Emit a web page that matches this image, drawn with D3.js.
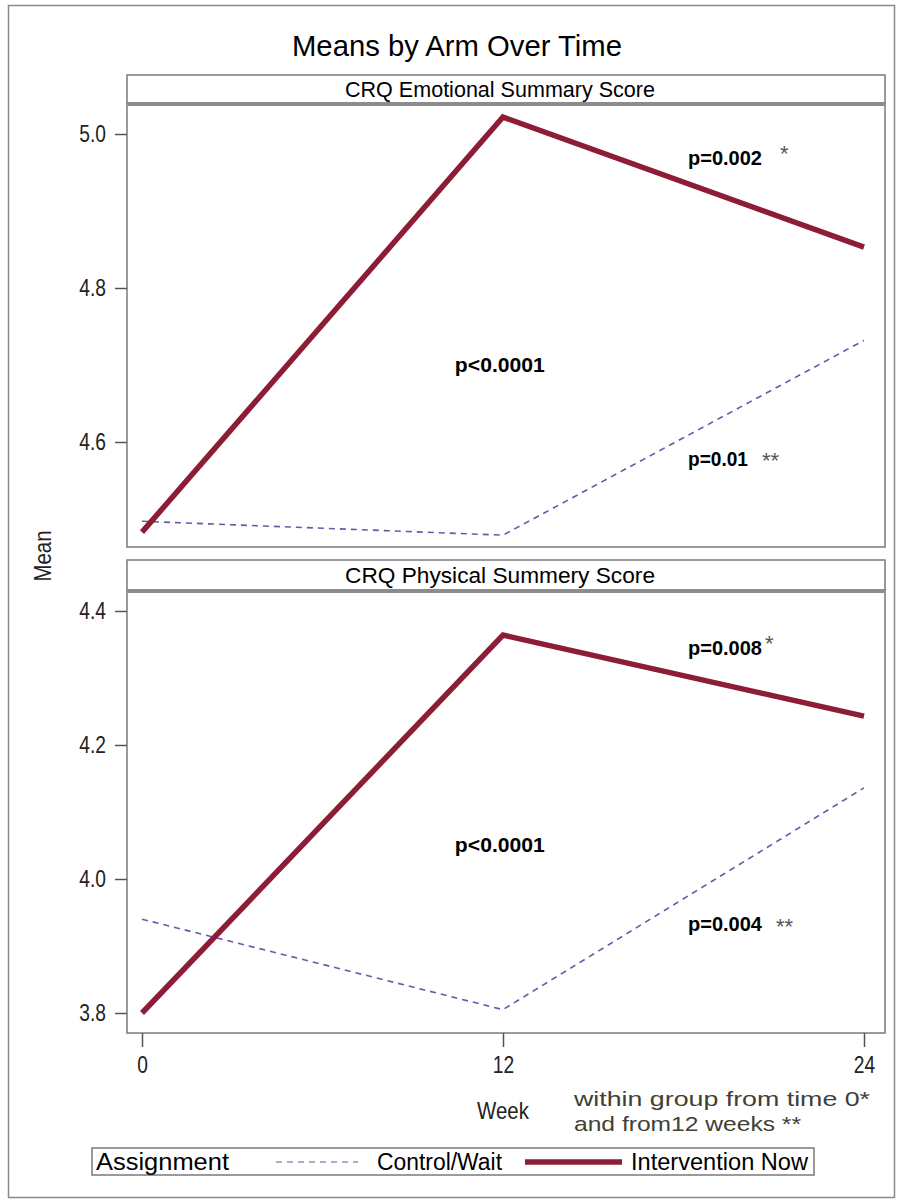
<!DOCTYPE html>
<html>
<head>
<meta charset="utf-8">
<script src="https://cdn.jsdelivr.net/npm/d3@7/dist/d3.min.js"></script>
<style>
  body { margin: 0; background: #fff; }
  svg text { font-family: "Liberation Sans Narrow", "Arial Narrow", "Liberation Sans", sans-serif; }
</style>
</head>
<body>
<svg id="chart" width="899" height="1201"></svg>
<script>
const weeks = [0, 12, 24]
const seriesNames = ['Control/Wait', 'Intervention Now']
const panelTitles = ['CRQ Emotional Summary Score', 'CRQ Physical Summery Score']

const emotionalControl = [4.497, 4.479, 4.732]
const emotionalIntervention = [4.483, 5.022, 4.853]
const physicalControl = [3.94, 3.805, 4.136]
const physicalIntervention = [3.80, 4.364, 4.243]

const emotionalTicks = [4.6, 4.8, 5.0]
const physicalTicks = [3.8, 4.0, 4.2, 4.4]

// p-value notes: text, stars, anchor (week, mean)
const emotionalNotes = [
  { text: 'p<0.0001', stars: '', week: 10.4, mean: 4.701 },
  { text: 'p=0.002', stars: '*', week: 18.15, mean: 4.969 },
  { text: 'p=0.01', stars: '**', week: 18.15, mean: 4.579 }
]
const physicalNotes = [
  { text: 'p<0.0001', stars: '', week: 10.4, mean: 4.052 },
  { text: 'p=0.008', stars: '*', week: 18.15, mean: 4.345 },
  { text: 'p=0.004', stars: '**', week: 18.15, mean: 3.933 }
]

const footNotes = ['within group from time 0*', 'and from12 weeks **']

const RED = '#8c1d35'
const BLUE = '#5d5da8'
const FRAME = '#7a7a7a'

const svg = d3.select('#chart')

// squeeze a text to look like the narrow SAS font
function narrow (sel, ratio) {
  sel.each(function () {
    const w = this.getComputedTextLength()
    d3.select(this)
      .attr('textLength', w * ratio)
      .attr('lengthAdjust', 'spacingAndGlyphs')
  })
}

// outer border
svg.append('rect')
  .attr('x', 8.5).attr('y', 5.5)
  .attr('width', 886).attr('height', 1192)
  .attr('fill', 'none').attr('stroke', '#8a8a8a').attr('stroke-width', 1.5)

svg.append('text')
  .attr('x', 457).attr('y', 56)
  .attr('text-anchor', 'middle')
  .attr('font-size', 29)
  .attr('textLength', 330).attr('lengthAdjust', 'spacingAndGlyphs')
  .text('Means by Arm Over Time')

const left = 127
const right = 885
const x = d3.scaleLinear().domain([0, 24]).range([142, 864])

const panels = [
  {
    title: panelTitles[0], headTop: 75, top: 103, bottom: 547,
    y: d3.scaleLinear().domain([4.6, 5.0]).range([442, 134]),
    ticks: emotionalTicks, control: emotionalControl, intervention: emotionalIntervention,
    notes: emotionalNotes
  },
  {
    title: panelTitles[1], headTop: 560, top: 590, bottom: 1033,
    y: d3.scaleLinear().domain([3.8, 4.4]).range([1013, 611]),
    ticks: physicalTicks, control: physicalControl, intervention: physicalIntervention,
    notes: physicalNotes
  }
]

const line = yScale => d3.line()
  .x((d, i) => x(weeks[i]))
  .y(d => yScale(d))

const noteWidths = { 'p<0.0001': 90, 'p=0.002': 74, 'p=0.008': 74, 'p=0.004': 74, 'p=0.01': 60 }

for (const p of panels) {
  const g = svg.append('g')

  // header strip
  g.append('rect')
    .attr('x', left).attr('y', p.headTop)
    .attr('width', right - left).attr('height', p.top - p.headTop)
    .attr('fill', '#fff').attr('stroke', FRAME).attr('stroke-width', 1.5)
  g.append('text')
    .attr('x', (left + right) / 2 - 6).attr('y', (p.headTop + p.top) / 2)
    .attr('dy', '0.36em')
    .attr('text-anchor', 'middle')
    .attr('font-size', 22)
    .attr('textLength', 310).attr('lengthAdjust', 'spacingAndGlyphs')
    .text(p.title)

  // plot frame
  g.append('rect')
    .attr('x', left).attr('y', p.top)
    .attr('width', right - left).attr('height', p.bottom - p.top)
    .attr('fill', '#fff').attr('stroke', FRAME).attr('stroke-width', 1.5)
  g.append('line')
    .attr('x1', left).attr('x2', right)
    .attr('y1', p.top + 1).attr('y2', p.top + 1)
    .attr('stroke', '#8c8c8c').attr('stroke-width', 4)

  // y axis
  const yAxis = d3.axisLeft(p.y)
    .tickValues(p.ticks)
    .tickFormat(d3.format('.1f'))
    .tickSize(12).tickPadding(9)
  const ya = g.append('g')
    .attr('transform', `translate(${left},0)`)
    .call(yAxis)
  ya.select('.domain').remove()
  ya.selectAll('.tick line').attr('stroke', '#555').attr('stroke-width', 1.5)
  ya.selectAll('.tick text')
    .attr('font-size', 24).attr('fill', '#222')
    .attr('font-family', '"Liberation Sans Narrow", "Liberation Sans", sans-serif')
    .call(narrow, 0.8)

  // series
  g.append('path')
    .datum(p.control)
    .attr('d', line(p.y))
    .attr('fill', 'none').attr('stroke', BLUE)
    .attr('stroke-width', 1.6).attr('stroke-dasharray', '6,5')
  g.append('path')
    .datum(p.intervention)
    .attr('d', line(p.y))
    .attr('fill', 'none').attr('stroke', RED)
    .attr('stroke-width', 5.5).attr('stroke-linejoin', 'miter')

  // p-value notes
  for (const n of p.notes) {
    const w = noteWidths[n.text]
    g.append('text')
      .attr('x', x(n.week)).attr('y', p.y(n.mean))
      .attr('dy', '0.36em')
      .attr('font-size', 21).attr('font-weight', 'bold')
      .attr('textLength', w).attr('lengthAdjust', 'spacingAndGlyphs')
      .text(n.text)
    if (n.stars) {
      g.append('text')
        .attr('x', x(n.week) + w + (n.text === 'p=0.008' ? 3 : n.stars === '*' ? 18 : 14))
        .attr('y', p.y(n.mean) - (n.stars === '*' ? 7 : 0))
        .attr('dy', '0.45em')
        .attr('font-size', 22).attr('fill', '#555')
        .attr('font-family', 'DejaVu Sans, sans-serif')
        .text(n.stars)
    }
  }
}

// x axis under the lower panel
const xAxis = d3.axisBottom(x)
  .tickValues(weeks)
  .tickFormat(d3.format('d'))
  .tickSize(14).tickPadding(9)
const xa = svg.append('g')
  .attr('transform', `translate(0,${panels[1].bottom})`)
  .call(xAxis)
xa.select('.domain').remove()
xa.selectAll('.tick line').attr('stroke', '#555').attr('stroke-width', 1.5)
xa.selectAll('.tick text')
  .attr('font-size', 24).attr('fill', '#222')
  .attr('font-family', '"Liberation Sans Narrow", "Liberation Sans", sans-serif')
  .call(narrow, 0.8)

// axis titles
svg.append('text')
  .attr('transform', 'translate(51,556) rotate(-90)')
  .attr('text-anchor', 'middle')
  .attr('font-size', 24).attr('fill', '#222')
  .text('Mean')
  .call(narrow, 0.85)
svg.append('text')
  .attr('x', 503).attr('y', 1119)
  .attr('text-anchor', 'middle')
  .attr('font-size', 24).attr('fill', '#222')
  .text('Week')
  .call(narrow, 0.85)

// footnote about the stars
const footWidths = [296, 227]
svg.selectAll('.foot')
  .data(footNotes)
  .join('text')
  .attr('class', 'foot')
  .attr('x', 574)
  .attr('y', (d, i) => 1106 + i * 25)
  .attr('font-size', 21).attr('fill', '#404036')
  .attr('textLength', (d, i) => footWidths[i]).attr('lengthAdjust', 'spacingAndGlyphs')
  .style('font-family', '"Liberation Sans", sans-serif')
  .text(d => d)

// legend
const legend = svg.append('g')
legend.append('rect')
  .attr('x', 92).attr('y', 1148)
  .attr('width', 722).attr('height', 27)
  .attr('fill', '#fff').attr('stroke', FRAME).attr('stroke-width', 1.5)
legend.append('text')
  .attr('x', 96).attr('y', 1162).attr('dy', '0.36em')
  .attr('font-size', 23)
  .attr('textLength', 133).attr('lengthAdjust', 'spacingAndGlyphs')
  .text('Assignment')

const legendItems = [
  { name: seriesNames[0], x1: 276, x2: 358, tx: 377, tw: 125, color: '#9090c0', width: 1.6, dash: '6,5' },
  { name: seriesNames[1], x1: 525, x2: 622, tx: 631, tw: 177, color: RED, width: 5.5, dash: null }
]
for (const item of legendItems) {
  legend.append('line')
    .attr('x1', item.x1).attr('x2', item.x2)
    .attr('y1', 1162).attr('y2', 1162)
    .attr('stroke', item.color).attr('stroke-width', item.width)
    .attr('stroke-dasharray', item.dash)
  legend.append('text')
    .attr('x', item.tx).attr('y', 1162).attr('dy', '0.36em')
    .attr('font-size', 23)
    .attr('textLength', item.tw).attr('lengthAdjust', 'spacingAndGlyphs')
    .text(item.name)
}
</script>
</body>
</html>
